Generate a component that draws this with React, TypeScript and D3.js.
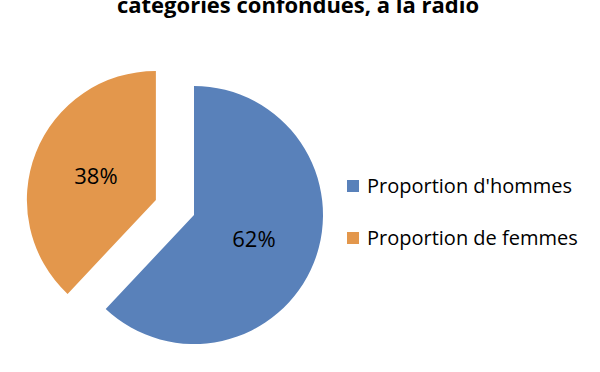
import React from "react";
import * as d3 from "d3";

const categories = ["Proportion d'hommes", "Proportion de femmes"];
const values = [62, 38];
const colors = ["#5981BA", "#E3974C"];
const titleText = "catégories confondues, à la radio";

const W = 600;
const H = 372;

export default function App() {
  const cx = 194;
  const cy = 215;
  const r = 129;
  const explode = 41;

  const pie = d3.pie<number>().sort(null).value((d) => d);
  const arcs = pie(values);
  const arc = d3.arc<d3.PieArcDatum<number>>().innerRadius(0).outerRadius(r);
  const total = d3.sum(values);

  // only the smaller slice is pulled out
  const offset = (a: d3.PieArcDatum<number>, i: number) => {
    if (i !== 1) return [0, 0];
    const mid = (a.startAngle + a.endAngle) / 2;
    return [Math.sin(mid) * explode, -Math.cos(mid) * explode];
  };

  return (
    <svg
      width={W}
      height={H}
      style={{ position: "absolute", left: 0, top: 0, background: "#fff" }}
      fontFamily="'Open Sans', sans-serif"
    >
      <text x={298} y={13} textAnchor="middle" fontSize={22} fontWeight="bold" fill="#000">
        {titleText}
      </text>
      <g transform={`translate(${cx},${cy})`}>
        {arcs.map((a, i) => {
          const [dx, dy] = offset(a, i);
          const [lx, ly] = arc.centroid(a);
          return (
            <g key={categories[i]} transform={`translate(${dx},${dy})`}>
              <path d={arc(a) || ""} fill={colors[i]} />
              <text x={lx} y={ly} dy="0.36em" textAnchor="middle" fontSize={22} fill="#000">
                {d3.format(".0%")(a.value / total)}
              </text>
            </g>
          );
        })}
      </g>
      <g transform="translate(347,0)">
        {categories.map((c, i) => (
          <g key={c} transform={`translate(0,${186 + i * 52})`}>
            <rect x={0} y={-6} width={12} height={12} fill={colors[i]} />
            <text x={20} y={0} dy="0.36em" fontSize={20} fill="#000">
              {c}
            </text>
          </g>
        ))}
      </g>
    </svg>
  );
}
